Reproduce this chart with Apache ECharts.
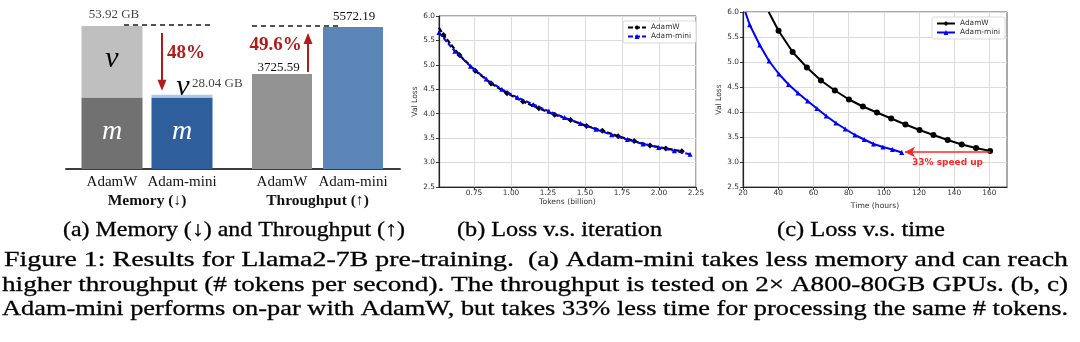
<!DOCTYPE html>
<html>
<head>
<meta charset="utf-8">
<script src="https://cdn.jsdelivr.net/npm/echarts@6/dist/echarts.min.js"></script>
<style>
  html, body { margin: 0; padding: 0; background: #fff; }
  #fig { width: 1080px; height: 342px; }
</style>
</head>
<body>
<div id="fig"></div>
<script>
// ---- (a) memory and throughput ----
const methods = ['AdamW', 'Adam-mini'];
const memTotalGB = [53.92, 28.04];      // total optimizer-state memory
const memMomentumGB = [26.96, 26.96];   // m part; v part is the remainder
const throughput = [3725.59, 5572.19];  // tokens per second

// ---- (b) validation loss vs. tokens ----
const tokensAdamW = [0.513, 0.543, 0.651, 0.758, 0.865, 0.973, 1.080, 1.188, 1.295, 1.402, 1.510, 1.617, 1.724, 1.832, 1.939, 2.046, 2.154];
const lossTokAdamW = [5.76, 5.61, 5.20, 4.88, 4.62, 4.42, 4.25, 4.11, 3.98, 3.87, 3.75, 3.65, 3.54, 3.44, 3.35, 3.29, 3.23];
const tokensMini = [0.513, 0.620, 0.726, 0.832, 0.938, 1.044, 1.150, 1.256, 1.362, 1.468, 1.574, 1.680, 1.786, 1.892, 1.998, 2.104, 2.210];
const lossTokMini = [5.66, 5.28, 4.97, 4.71, 4.50, 4.33, 4.19, 4.05, 3.92, 3.80, 3.68, 3.57, 3.47, 3.38, 3.31, 3.24, 3.17];
const tokenTicks = [0.75, 1.00, 1.25, 1.50, 1.75, 2.00, 2.25];

// ---- (c) validation loss vs. wall-clock time ----
const hoursAdamW = [34.6, 40.2, 48.2, 56.3, 64.3, 72.2, 80.2, 88.1, 96.1, 104.2, 112.3, 120.3, 128.2, 136.3, 144.3, 152.4, 160.4];
const lossTimeAdamW = [6.00, 5.625, 5.20, 4.89, 4.63, 4.43, 4.25, 4.11, 3.99, 3.87, 3.75, 3.64, 3.54, 3.44, 3.35, 3.28, 3.22];
const hoursMini = [21.3, 23.8, 29.5, 34.8, 40.4, 45.9, 51.2, 56.7, 62.0, 67.3, 72.8, 78.1, 83.6, 88.9, 94.2, 99.5, 104.9, 110.2];
const lossTimeMini = [6.00, 5.745, 5.34, 5.02, 4.76, 4.55, 4.38, 4.22, 4.07, 3.92, 3.78, 3.66, 3.54, 3.45, 3.36, 3.30, 3.25, 3.19];
const hourTicks = [20, 40, 60, 80, 100, 120, 140, 160];
const speedupArrow = { fromHours: 160.4, toHours: 112.0, loss: 3.20, text: '33% speed up' };

// ---- captions ----
const subCaptions = ['(a) Memory (\u2193) and Throughput (\u2191)', '(b) Loss v.s. iteration', '(c) Loss v.s. time'];
const figureCaption = [
  'Figure 1: Results for Llama2-7B pre-training.  (a) Adam-mini takes less memory and can reach',
  'higher throughput (# tokens per second). The throughput is tested on 2\u00d7 A800-80GB GPUs. (b, c)',
  'Adam-mini performs on-par with AdamW, but takes 33% less time for processing the same # tokens.'
];

const SERIF = '"Liberation Serif", "DejaVu Serif", serif';
const SANS = '"DejaVu Sans", sans-serif';
const RED = '#b31a1a';
const memV = memTotalGB.map((t, i) => +(t - memMomentumGB[i]).toFixed(2));
const memCut = Math.round((1 - memTotalGB[1] / memTotalGB[0]) * 100) + '%';
const tpGain = ((throughput[1] / throughput[0] - 1) * 100).toFixed(1) + '%';

const chart = echarts.init(document.getElementById('fig'), null, { renderer: 'canvas', width: 1080, height: 342 });

function pairs(xs, ys, noMarkFirst) {
  return xs.map((x, i) => (noMarkFirst && i === 0) ? { value: [x, ys[i]], symbol: 'none' } : [x, ys[i]]);
}

function lossAxes(gridIndex, xMin, xMax, xTicks, xFmt, xName, yNameGap) {
  const tickText = { fontSize: 7.4, color: '#333', fontFamily: SANS };
  return {
    x: {
      gridIndex, type: 'value', min: xMin, max: xMax,
      axisLine: { show: true, onZero: false, lineStyle: { color: '#222', width: 1.2 } },
      axisTick: { show: true, customValues: xTicks, length: 3, lineStyle: { color: '#333' } },
      axisLabel: Object.assign({ customValues: xTicks, formatter: xFmt, margin: 3 }, tickText),
      splitLine: { show: true, lineStyle: { color: '#dcdcdc', width: 1 } },
      name: xName, nameLocation: 'middle', nameGap: 11,
      nameTextStyle: { fontSize: 7.6, color: '#333', fontFamily: SANS }
    },
    y: {
      gridIndex, type: 'value', min: 2.5, max: 6.0, interval: 0.5,
      axisLine: { show: true, lineStyle: { color: '#222', width: 1.2 } },
      axisTick: { show: true, length: 3, lineStyle: { color: '#333' } },
      axisLabel: Object.assign({ formatter: v => v.toFixed(1), margin: 4 }, tickText),
      splitLine: { show: true, lineStyle: { color: '#dcdcdc', width: 1 } },
      name: 'Val Loss', nameLocation: 'middle', nameGap: yNameGap, nameRotate: 90,
      nameTextStyle: { fontSize: 7.6, color: '#333', fontFamily: SANS }
    }
  };
}

const axB = lossAxes(3, 'dataMin', 2.25, tokenTicks, v => v.toFixed(2), 'Tokens (billion)', 16);
const axC = lossAxes(4, 20, 170, hourTicks, v => String(v), 'Time (hours)', 18);

const catLabel = { fontFamily: SERIF, fontSize: 15, color: '#111', margin: 6, interval: 0 };
const groupName = { fontFamily: SERIF, fontWeight: 'bold', fontSize: 15.5, color: '#111' };
const legendBase = {
  orient: 'vertical', backgroundColor: '#fff', borderColor: '#cfcfcf', borderWidth: 0.8, borderRadius: 2,
  padding: [3, 5, 3, 4], itemGap: 2, itemWidth: 18, itemHeight: 6,
  textStyle: { fontSize: 7.4, color: '#333', fontFamily: SANS }
};

const option = {
  animation: false,
  backgroundColor: '#fff',
  grid: [
    { left: 77, width: 140, top: 10, height: 159 },      // memory bars
    { left: 246.5, width: 142, top: 10, height: 159 },   // throughput bars
    { left: 66, width: 334, top: 10, height: 159 },      // shared baseline
    { left: 439, width: 257, top: 16, height: 171, show: true, borderColor: '#555', borderWidth: 1 },
    { left: 743, width: 264, top: 12, height: 175, show: true, borderColor: '#555', borderWidth: 1 }
  ],
  xAxis: [
    { gridIndex: 0, type: 'category', data: methods, axisLine: { show: false }, axisTick: { show: false },
      axisLabel: catLabel, name: 'Memory (\u2193)', nameLocation: 'middle', nameGap: 24, nameTextStyle: groupName },
    { gridIndex: 1, type: 'category', data: methods, axisLine: { show: false }, axisTick: { show: false },
      axisLabel: catLabel, name: 'Throughput (\u2191)', nameLocation: 'middle', nameGap: 24, nameTextStyle: groupName },
    { gridIndex: 2, type: 'value', min: 0, max: 1, axisLine: { show: true, lineStyle: { color: '#3c3c3c', width: 2 } },
      axisTick: { show: false }, axisLabel: { show: false }, splitLine: { show: false } },
    axB.x, axC.x
  ],
  yAxis: [
    { gridIndex: 0, type: 'value', min: 0, max: 60, show: false },
    { gridIndex: 1, type: 'value', min: 0, max: 6240, show: false },
    { gridIndex: 2, type: 'value', min: 0, max: 1, show: false },
    axB.y, axC.y
  ],
  legend: [
    Object.assign({ left: 623, top: 21, data: [
      { name: 'AdamW' }, { name: 'Adam-mini' }
    ] }, legendBase),
    Object.assign({ left: 932, top: 17, data: [
      { name: 'AdamW', lineStyle: { type: 'solid' } }, { name: 'Adam-mini', lineStyle: { type: 'solid' } }
    ] }, legendBase)
  ],
  series: [
    // (a) memory: m part
    { type: 'bar', xAxisIndex: 0, yAxisIndex: 0, stack: 'mem', barWidth: 61,
      data: memMomentumGB.map((v, i) => ({ value: v, itemStyle: { color: ['#717171', '#2e5e9b'][i] } })),
      label: { show: true, position: 'inside', formatter: 'm', offset: [0, -2], color: '#fff',
               fontFamily: SERIF, fontStyle: 'italic', fontSize: 28 } },
    // (a) memory: v part
    { type: 'bar', xAxisIndex: 0, yAxisIndex: 0, stack: 'mem', barWidth: 61,
      data: memV.map((v, i) => ({
        value: v, itemStyle: { color: ['#bfbfbf', '#a9c8ec'][i] },
        label: i === 0 ? { position: 'inside', offset: [0, -3] }
                       : { position: [31.5, -8], align: 'center', verticalAlign: 'middle' }
      })),
      label: { show: true, formatter: 'v', color: '#000', fontFamily: SERIF, fontStyle: 'italic', fontSize: 30 } },
    // (a) memory totals
    { type: 'scatter', xAxisIndex: 0, yAxisIndex: 0, symbolSize: 1, itemStyle: { color: 'rgba(0,0,0,0)' },
      data: memTotalGB.map((v, i) => ({
        value: [i, v],
        label: i === 0 ? { position: 'top', distance: 5, offset: [2, 0] }
                       : { position: [10.5, -11], align: 'left', verticalAlign: 'middle' }
      })),
      label: { show: true, formatter: p => p.value[1].toFixed(2) + ' GB', color: '#111', fontFamily: SERIF, fontSize: 13 } },
    // (a) throughput
    { type: 'bar', xAxisIndex: 1, yAxisIndex: 1, barWidth: 60,
      data: throughput.map((v, i) => ({
        value: v, itemStyle: { color: ['#939393', '#5b86b7'][i] },
        label: i === 0 ? { distance: 0, offset: [-3.5, 0] } : { distance: 4, offset: [1, 0] }
      })),
      label: { show: true, position: 'top', formatter: p => p.value.toFixed(2), color: '#111', fontFamily: SERIF, fontSize: 13 } },
    // (b)
    { type: 'line', name: 'AdamW', xAxisIndex: 3, yAxisIndex: 3, data: pairs(tokensAdamW, lossTokAdamW, true),
      symbol: 'diamond', symbolSize: 6, showAllSymbol: true, itemStyle: { color: '#000' },
      lineStyle: { color: '#000', width: 2.2, type: [5, 2] }, z: 3 },
    { type: 'line', name: 'Adam-mini', xAxisIndex: 3, yAxisIndex: 3, data: pairs(tokensMini, lossTokMini, false),
      symbol: 'triangle', symbolSize: 5, showAllSymbol: true, itemStyle: { color: '#0000ff' },
      lineStyle: { color: '#0000ff', width: 2, type: [5, 2] }, z: 4 },
    // (c)
    { type: 'line', name: 'AdamW', xAxisIndex: 4, yAxisIndex: 4, data: pairs(hoursAdamW, lossTimeAdamW, true),
      symbol: 'circle', symbolSize: 6, showAllSymbol: true, itemStyle: { color: '#000' },
      lineStyle: { color: '#000', width: 2 }, z: 3 },
    { type: 'line', name: 'Adam-mini', xAxisIndex: 4, yAxisIndex: 4, data: pairs(hoursMini, lossTimeMini, true),
      symbol: 'triangle', symbolSize: 5, showAllSymbol: true, itemStyle: { color: '#0000ff' },
      lineStyle: { color: '#0000ff', width: 2 }, z: 4,
      markLine: {
        silent: true, symbol: ['arrow', 'none'], symbolSize: [8, 10],
        lineStyle: { color: '#ff2424', width: 1.6, type: 'solid' },
        label: { show: true, position: 'insideMiddleBottom', distance: 6, formatter: speedupArrow.text,
                 color: '#ff2424', fontWeight: 'bold', fontSize: 9, fontFamily: SANS },
        data: [[{ coord: [speedupArrow.toHours, speedupArrow.loss] }, { coord: [speedupArrow.fromHours, speedupArrow.loss] }]]
      } }
  ]
};

chart.setOption(option);

// ---- annotations in panel (a) ----
const yMemTop = chart.convertToPixel({ yAxisIndex: 0 }, memTotalGB[0]);
const yMemMini = chart.convertToPixel({ yAxisIndex: 0 }, memTotalGB[1]);
const yTpTop = chart.convertToPixel({ yAxisIndex: 1 }, throughput[1]);
const yTpAdamW = chart.convertToPixel({ yAxisIndex: 1 }, throughput[0]);

function dashed(x1, x2, y) {
  return { type: 'line', silent: true, shape: { x1, y1: y, x2, y2: y },
           style: { stroke: '#1a1a1a', lineWidth: 1.5, lineDash: [5, 4] } };
}
function arrow(x, yFrom, yTo) {
  const dir = yTo > yFrom ? 1 : -1, head = 11;
  return [
    { type: 'line', silent: true, shape: { x1: x, y1: yFrom, x2: x, y2: yTo - dir * head * 0.8 },
      style: { stroke: RED, lineWidth: 2 } },
    { type: 'polygon', silent: true, shape: { points: [[x - 4.5, yTo - dir * head], [x + 4.5, yTo - dir * head], [x, yTo]] },
      style: { fill: RED } }
  ];
}
function label(text, cx, cy, size) {
  return { type: 'text', silent: true, x: cx, y: cy,
           style: { text, fill: RED, font: `bold ${size}px ${SERIF}`, align: 'center', verticalAlign: 'middle',
                    textAlign: 'center', textVerticalAlign: 'middle' } };
}

// ---- captions: each line stretched to its column width ----
const ctx = document.createElement('canvas').getContext('2d');
function fitted(text, left, right, baseline, size) {
  const font = `${size}px ${SERIF}`;
  ctx.font = font;
  const w = ctx.measureText(text).width;
  return { type: 'text', silent: true, x: left, y: baseline - 0.34 * size, scaleX: (right - left) / w, scaleY: 1,
           style: { text, fill: '#000', stroke: '#000', lineWidth: 0.3, font, align: 'left', verticalAlign: 'middle',
                    textAlign: 'left', textVerticalAlign: 'middle' } };
}

const graphic = [
  dashed(124, 213, yMemTop - 1),
  dashed(252, 340, yTpTop - 1),
  ...arrow(162, yMemTop + 7, yMemMini - 4),
  ...arrow(308, yTpAdamW - 2, yTpTop + 6),
  label(memCut, 186, 53, 19),
  label(tpGain, 275.5, 45, 19),
  fitted(subCaptions[0], 63, 405, 238, 21),
  fitted(subCaptions[1], 457, 662, 238, 21),
  fitted(subCaptions[2], 777, 945, 238, 21),
  fitted(figureCaption[0], 4, 1068, 268, 22),
  fitted(figureCaption[1], 2, 1068, 292.5, 22),
  fitted(figureCaption[2], 2, 1068, 316.5, 22)
];
chart.setOption({ graphic });
</script>
</body>
</html>
